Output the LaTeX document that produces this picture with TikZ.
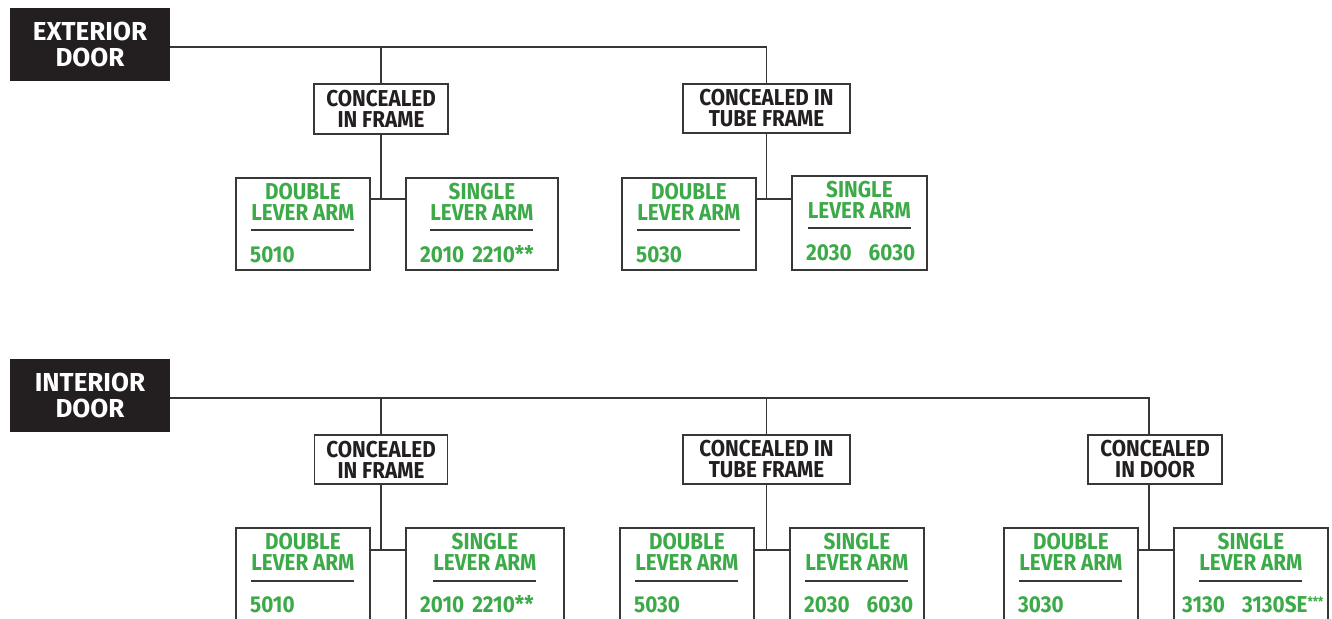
\documentclass[tikz,border=0pt]{standalone}
\usepackage{fontspec}
\setmainfont{Fira Sans}
\newfontfamily\narrowfont{Fira Sans}[FakeStretch=0.9]
\usepackage{xcolor}
\definecolor{doorblack}{RGB}{35,31,32}
\definecolor{armgreen}{RGB}{61,170,73}
\definecolor{wire}{RGB}{55,55,55}

\tikzset{
  door/.style={fill=doorblack, text=white, minimum width=160, minimum height=73,
    align=center, inner sep=0, font=\bfseries\fontsize{26}{26}\selectfont},
  mount/.style={draw=wire, line width=1.8pt, fill=white, text=doorblack, align=center,
    inner sep=0, font=\narrowfont\bfseries\fontsize{23}{21}\selectfont},
  leaf/.style={draw=wire, line width=1.8pt, anchor=north west, minimum height=92, inner sep=0},
  armtitle/.style={anchor=north, text=armgreen, align=center, inner sep=0,
    font=\narrowfont\bfseries\fontsize{23}{21}\selectfont},
  armcode/.style={anchor=base west, text=armgreen, inner sep=0,
    font=\narrowfont\bfseries\fontsize{23}{24}\selectfont},
  armrule/.style={draw=wire, line width=1.5pt},
  link/.style={draw=wire, line width=1.5pt},
}
\newcommand{\stars}{\raisebox{6pt}{\fontsize{13}{13}\selectfont ***}}

\begin{document}
\begin{tikzpicture}[x=1pt,y=-1pt]
\useasboundingbox (0,0) rectangle (1332,618);

% exterior door
\node[door] (ext) at (90,44.5) {EXTERIOR\\DOOR};
\node[mount, minimum width=134, minimum height=50] (a1) at (381,109) {CONCEALED\\IN FRAME};
\node[mount, minimum width=167, minimum height=49] (a2) at (766.5,108.5) {CONCEALED IN\\TUBE FRAME};

\draw[link] ([yshift=-2.5pt]ext.east) -| (a2.north);
\draw[link] (a1.north) -- +(0,-37);

\node[leaf, minimum width=134] (a1d) at (235,177) {};
\node[armtitle] (a1dt) at ([yshift=-6pt]a1d.north) {DOUBLE\\LEVER ARM};
\draw[armrule] ([yshift=-53pt]a1d.north) +(-51.5,0) -- +(51.5,0);
\node[armcode] (a1dc) at ([xshift=15pt,yshift=-85pt]a1d.north west) {5010};

\node[leaf, minimum width=152] (a1s) at (405,177) {};
\node[armtitle] (a1st) at ([yshift=-6pt]a1s.north) {SINGLE\\LEVER ARM};
\draw[armrule] ([yshift=-53pt]a1s.north) +(-51.5,0) -- +(51.5,0);
\node[armcode] (a1sc) at ([xshift=15pt,yshift=-85pt]a1s.north west) {2010\hspace{8pt}2210**};

\coordinate (a1j) at (381,199);
\draw[link] (a1.south) -- (a1j);
\draw[link] (a1d.east |- a1j) -- (a1s.west |- a1j);

\node[leaf, minimum width=134] (a2d) at (621,177) {};
\node[armtitle] (a2dt) at ([yshift=-6pt]a2d.north) {DOUBLE\\LEVER ARM};
\draw[armrule] ([yshift=-53pt]a2d.north) +(-51.5,0) -- +(51.5,0);
\node[armcode] (a2dc) at ([xshift=15pt,yshift=-85pt]a2d.north west) {5030};

\node[leaf, minimum width=135, minimum height=94] (a2s) at (791,175) {};
\node[armtitle] (a2st) at ([yshift=-6pt]a2s.north) {SINGLE\\LEVER ARM};
\draw[armrule] ([yshift=-53pt]a2s.north) +(-51.5,0) -- +(51.5,0);
\node[armcode] (a2sc) at ([xshift=15pt,yshift=-85pt]a2s.north west) {2030\hspace{17pt}6030};

\coordinate (a2j) at (766.5,199);
\draw[link] (a2.south) -- (a2j);
\draw[link] (a2d.east |- a2j) -- (a2s.west |- a2j);

% interior door
\node[door] (int) at (90,395) {INTERIOR\\DOOR};
\node[mount, minimum width=133, minimum height=49] (b1) at (381,459.5) {CONCEALED\\IN FRAME};
\node[mount, minimum width=167, minimum height=49] (b2) at (766.5,459.5) {CONCEALED IN\\TUBE FRAME};
\node[mount, minimum width=134, minimum height=49] (b3) at (1155,459.5) {CONCEALED\\IN DOOR};

\draw[link] ([yshift=-3pt]int.east) -| ([xshift=-6pt]b3.north);
\draw[link] (b1.north) -- +(0,-37);
\draw[link] (b2.north) -- +(0,-37);

\node[leaf, minimum width=134, minimum height=96] (b1d) at (235,527) {};
\node[armtitle] (b1dt) at ([yshift=-6pt]b1d.north) {DOUBLE\\LEVER ARM};
\draw[armrule] ([yshift=-54pt]b1d.north) +(-51.5,0) -- +(51.5,0);
\node[armcode] (b1dc) at ([xshift=15pt,yshift=-85pt]b1d.north west) {5010};

\node[leaf, minimum width=158, minimum height=96] (b1s) at (405,527) {};
\node[armtitle] (b1st) at ([yshift=-6pt]b1s.north) {SINGLE\\LEVER ARM};
\draw[armrule] ([yshift=-54pt]b1s.north) +(-51.5,0) -- +(51.5,0);
\node[armcode] (b1sc) at ([xshift=15pt,yshift=-85pt]b1s.north west) {2010\hspace{8pt}2210**};

\coordinate (b1j) at (381,550);
\draw[link] (b1.south) -- (b1j);
\draw[link] (b1d.east |- b1j) -- (b1s.west |- b1j);

\node[leaf, minimum width=134, minimum height=96] (b2d) at (619,527) {};
\node[armtitle] (b2dt) at ([yshift=-6pt]b2d.north) {DOUBLE\\LEVER ARM};
\draw[armrule] ([yshift=-54pt]b2d.north) +(-51.5,0) -- +(51.5,0);
\node[armcode] (b2dc) at ([xshift=15pt,yshift=-85pt]b2d.north west) {5030};

\node[leaf, minimum width=134, minimum height=96] (b2s) at (789,527) {};
\node[armtitle] (b2st) at ([yshift=-6pt]b2s.north) {SINGLE\\LEVER ARM};
\draw[armrule] ([yshift=-54pt]b2s.north) +(-51.5,0) -- +(51.5,0);
\node[armcode] (b2sc) at ([xshift=15pt,yshift=-85pt]b2s.north west) {2030\hspace{17pt}6030};

\coordinate (b2j) at (766.5,550);
\draw[link] (b2.south) -- (b2j);
\draw[link] (b2d.east |- b2j) -- (b2s.west |- b2j);

\node[leaf, minimum width=134, minimum height=96] (b3d) at (1003,527) {};
\node[armtitle] (b3dt) at ([yshift=-6pt]b3d.north) {DOUBLE\\LEVER ARM};
\draw[armrule] ([yshift=-54pt]b3d.north) +(-51.5,0) -- +(51.5,0);
\node[armcode] (b3dc) at ([xshift=15pt,yshift=-85pt]b3d.north west) {3030};

\node[leaf, minimum width=154, minimum height=96] (b3s) at (1173,527) {};
\node[armtitle] (b3st) at ([yshift=-6pt]b3s.north) {SINGLE\\LEVER ARM};
\draw[armrule] ([yshift=-54pt]b3s.north) +(-51.5,0) -- +(51.5,0);
\node[armcode] (b3sc) at ([xshift=9pt,yshift=-85pt]b3s.north west) {3130\hspace{17pt}3130SE\stars};

\coordinate (b3j) at (1149,550);
\draw[link] ([xshift=-6pt]b3.south) -- (b3j);
\draw[link] (b3d.east |- b3j) -- (b3s.west |- b3j);

\end{tikzpicture}
\end{document}
